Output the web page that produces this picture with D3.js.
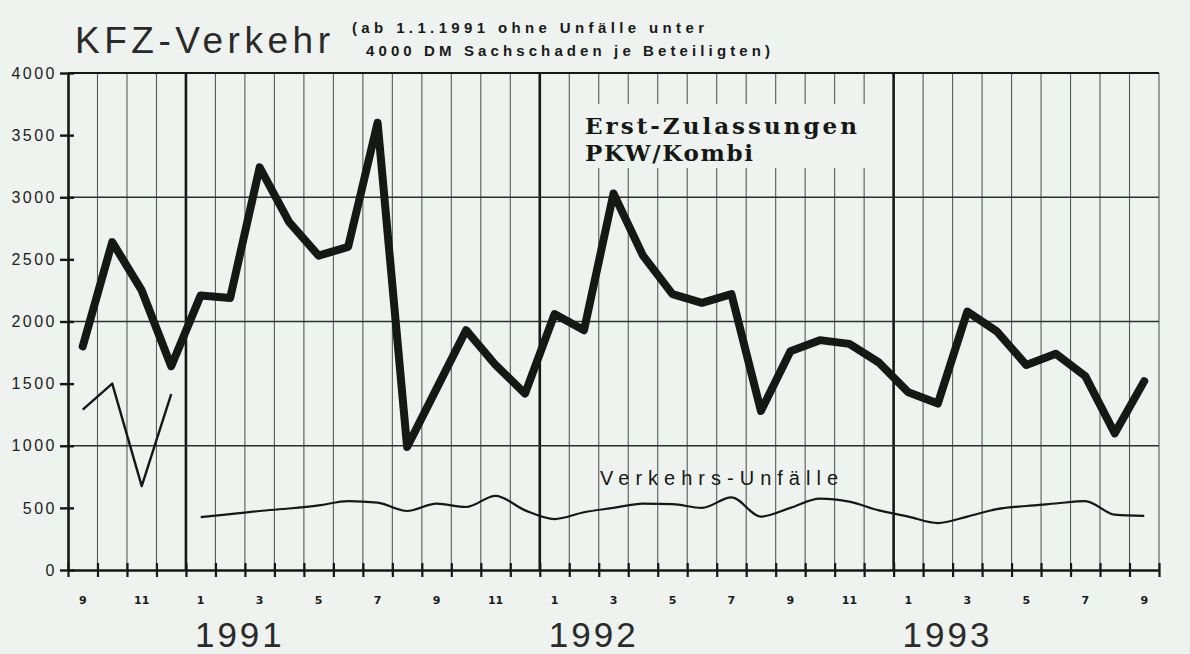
<!DOCTYPE html>
<html>
<head>
<meta charset="utf-8">
<script src="https://cdn.jsdelivr.net/npm/d3@7"></script>
<style>
  body { margin: 0; background: #eef3ef; }
  svg { display: block; }
</style>
</head>
<body>
<svg id="chart" width="1190" height="654"></svg>
<script>
// months Sep 1990 .. Sep 1993
const months = [
  "1990-09","1990-10","1990-11","1990-12",
  "1991-01","1991-02","1991-03","1991-04","1991-05","1991-06","1991-07","1991-08","1991-09","1991-10","1991-11","1991-12",
  "1992-01","1992-02","1992-03","1992-04","1992-05","1992-06","1992-07","1992-08","1992-09","1992-10","1992-11","1992-12",
  "1993-01","1993-02","1993-03","1993-04","1993-05","1993-06","1993-07","1993-08","1993-09"
];

// Erst-Zulassungen PKW/Kombi
const zulassungen = [
  1800, 2640, 2250, 1640,
  2210, 2190, 3240, 2800, 2530, 2600, 3600, 990, 1460, 1930, 1650, 1420,
  2060, 1930, 3030, 2530, 2220, 2150, 2220, 1280, 1760, 1850, 1820, 1670,
  1430, 1340, 2080, 1920, 1650, 1740, 1560, 1100, 1520
];

// Verkehrs-Unfaelle, bis Dez 1990 (alte Abgrenzung)
const unfaelleAlt = [1290, 1500, 675, 1415];
// ab 1.1.1991 ohne Unfaelle unter 4000 DM Sachschaden
const unfaelleNeu = [
  425, 450, 475, 495, 520, 555, 542, 475, 534, 507, 597, 480,
  410, 465, 500, 535, 530, 500, 585, 430, 500, 575, 550, 480,
  430, 378, 430, 490, 515, 535, 555, 445, 435
];

const yTicks = [0, 500, 1000, 1500, 2000, 2500, 3000, 3500, 4000];
const yGrid = [1000, 2000, 3000];
const yearLabels = ["1991", "1992", "1993"];

const ink = "#151815";
const bg = "#eef3ef";

const svg = d3.select("#chart");

const xTick = d3.scaleLinear().domain([0, months.length]).range([68, 1159]);
const xMid = i => xTick(i + 0.5);
const y = d3.scaleLinear().domain([0, 4000]).range([570, 73]);

svg.append("rect").attr("width", 1190).attr("height", 654).attr("fill", bg);

// vertical grid, one line per month boundary, thick at year change
const grid = svg.append("g");
d3.range(1, months.length + 1).forEach(i => {
  const isYear = i < months.length && months[i].endsWith("-01");
  grid.append("line")
    .attr("x1", xTick(i)).attr("x2", xTick(i))
    .attr("y1", y(4000)).attr("y2", y(0))
    .attr("stroke", isYear ? ink : "#3c423e")
    .attr("stroke-width", isYear ? 2.6 : 1.1)
    .attr("opacity", isYear ? 1 : 0.85);
});

// horizontal grid
grid.selectAll(".hg")
  .data(yGrid)
  .join("line")
  .attr("x1", xTick(0)).attr("x2", xTick(months.length))
  .attr("y1", d => y(d)).attr("y2", d => y(d))
  .attr("stroke", "#2a302c")
  .attr("stroke-width", 1.3);

grid.append("line")
  .attr("x1", xTick(0)).attr("x2", xTick(months.length))
  .attr("y1", y(4000)).attr("y2", y(4000))
  .attr("stroke", ink).attr("stroke-width", 1.8);

// label box for the upper series (gridlines are cut behind it)
svg.append("rect")
  .attr("x", 578).attr("y", 104).attr("width", 292).attr("height", 64)
  .attr("fill", bg);

// axes
const yAxis = svg.append("g")
  .attr("transform", `translate(${xTick(0)},0)`)
  .call(d3.axisLeft(y).tickValues(yTicks).tickFormat(d3.format("d"))
    .tickSize(8).tickSizeOuter(0).tickPadding(3));
yAxis.select(".domain").attr("stroke", ink).attr("stroke-width", 2.6);
yAxis.selectAll(".tick line").attr("x1", 6).attr("stroke", ink).attr("stroke-width", 2.4);
yAxis.selectAll(".tick text")
  .attr("fill", "#222")
  .style("font-family", "'Liberation Sans', sans-serif")
  .style("font-size", "16px")
  .style("letter-spacing", "2.5px");

const xAxis = svg.append("g")
  .attr("transform", `translate(0,${y(0)})`)
  .call(d3.axisBottom(xTick).tickValues(d3.range(0, months.length + 1))
    .tickSize(7).tickSizeOuter(0).tickFormat(""));
xAxis.select(".domain").attr("stroke", ink).attr("stroke-width", 2.6);
xAxis.selectAll(".tick line").attr("y1", -7).attr("stroke", ink).attr("stroke-width", 2.2);

// month labels (odd months)
svg.append("g")
  .selectAll("text")
  .data(months.map((m, i) => ({ m: +m.slice(5), i })).filter(d => d.m % 2 === 1))
  .join("text")
  .attr("x", d => xMid(d.i))
  .attr("y", 604)
  .attr("text-anchor", "middle")
  .attr("fill", "#1c1c1c")
  .style("font-family", "'DejaVu Sans', sans-serif")
  .style("font-weight", "bold")
  .style("font-size", "11px")
  .text(d => d.m);

// year labels, starting right after the year line
svg.append("g")
  .selectAll("text")
  .data(yearLabels)
  .join("text")
  .attr("x", d => xTick(months.indexOf(d + "-01")) + 9)
  .attr("y", 647)
  .attr("fill", "#2a2a2a")
  .style("font-family", "'Liberation Sans', sans-serif")
  .style("font-size", "35px")
  .style("letter-spacing", "3px")
  .text(d => d);

// lines
const line = d3.line().x(d => xMid(d.i)).y(d => y(d.v));

svg.append("path")
  .datum(zulassungen.map((v, i) => ({ v, i })))
  .attr("d", line)
  .attr("fill", "none")
  .attr("stroke", ink)
  .attr("stroke-width", 8)
  .attr("stroke-linejoin", "round")
  .attr("stroke-linecap", "round");

svg.append("path")
  .datum(unfaelleAlt.map((v, i) => ({ v, i })))
  .attr("d", line)
  .attr("fill", "none")
  .attr("stroke", ink)
  .attr("stroke-width", 2.4)
  .attr("stroke-linejoin", "round");

const start = months.indexOf("1991-01");
svg.append("path")
  .datum(unfaelleNeu.map((v, k) => ({ v, i: start + k })))
  .attr("d", line.curve(d3.curveMonotoneX))
  .attr("fill", "none")
  .attr("stroke", ink)
  .attr("stroke-width", 2.2)
  .attr("stroke-linejoin", "round");

// series labels
const lab = svg.append("g")
  .attr("fill", ink)
  .style("font-family", "'DejaVu Serif', serif")
  .style("font-weight", "bold")
  .style("font-size", "23px");
lab.append("text").attr("x", 585).attr("y", 134).attr("textLength", 272).text("Erst-Zulassungen");
lab.append("text").attr("x", 585).attr("y", 161).attr("textLength", 168).text("PKW/Kombi");

svg.append("text")
  .attr("x", 600).attr("y", 485)
  .attr("textLength", 238)
  .attr("fill", ink)
  .style("font-family", "'Liberation Sans', sans-serif")
  .style("font-size", "20px")
  .text("Verkehrs-Unfälle");

// title
svg.append("text")
  .attr("x", 75).attr("y", 53)
  .attr("textLength", 255)
  .attr("fill", "#2a2a2a")
  .style("font-family", "'Liberation Sans', sans-serif")
  .style("font-size", "37px")
  .text("KFZ-Verkehr");

const sub = svg.append("g")
  .attr("fill", "#1a1a1a")
  .style("font-family", "'Liberation Sans', sans-serif")
  .style("font-weight", "bold")
  .style("font-size", "15px");
sub.append("text").attr("x", 352).attr("y", 33).attr("textLength", 352).text("(ab 1.1.1991 ohne Unfälle unter");
sub.append("text").attr("x", 366).attr("y", 56).attr("textLength", 404).text("4000 DM Sachschaden je Beteiligten)");
</script>
</body>
</html>
